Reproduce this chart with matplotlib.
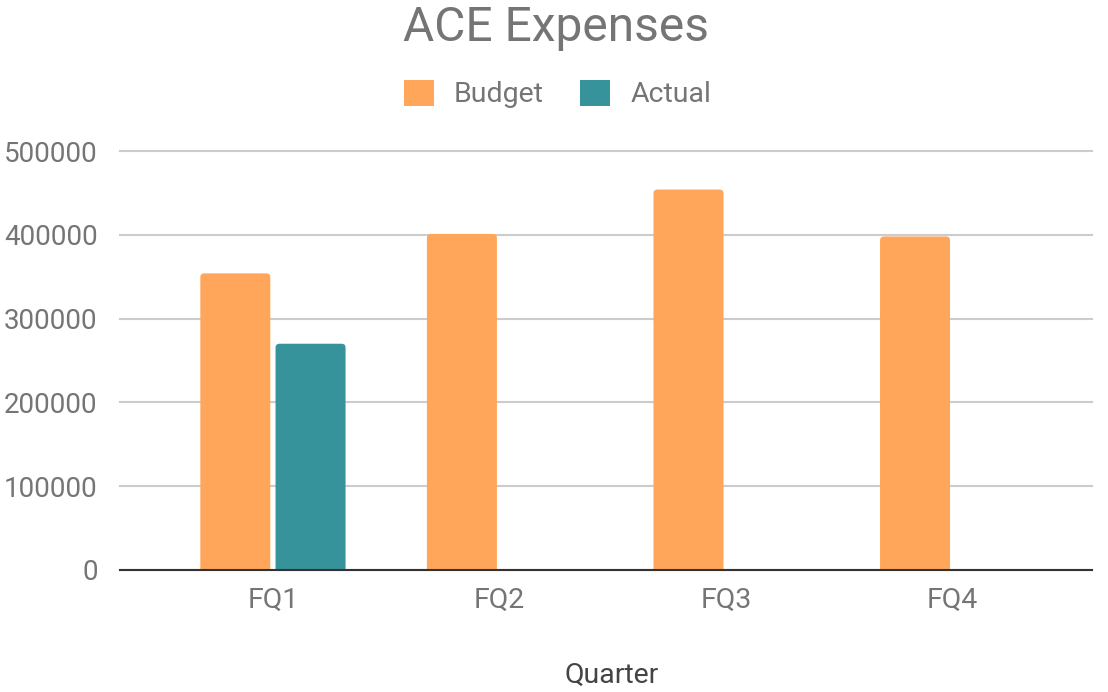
import matplotlib
matplotlib.use("Agg")
import matplotlib.pyplot as plt
from matplotlib.patches import Patch, FancyBboxPatch
import numpy as np

plt.rcParams['font.family'] = ['Roboto', 'DejaVu Sans']

quarters = ["FQ1", "FQ2", "FQ3", "FQ4"]
budget = [354000, 401000, 454000, 398000]
actual = [270000, 0, 0, 0]
yticks = [0, 100000, 200000, 300000, 400000, 500000]

c_budget = "#FFA65A"
c_actual = "#37939B"
txt = "#757575"

fig = plt.figure(figsize=(11.08, 6.92), dpi=100)
ax = fig.add_axes([120/1108, 1-570/692, (1092-120)/1108, (570-151)/692])

x = np.arange(len(quarters))
w = 0.309
off = 0.166
b1 = ax.bar(x - off, budget, width=w, color=c_budget, zorder=3)
b2 = ax.bar(x + off, actual, width=w, color=c_actual, zorder=3)

ax.set_ylim(0, 500000)
ax.set_xlim(-0.675, 3.615)

# slightly rounded top corners, like the reference (bottom corners clipped at the baseline)
px_x = (1092-120) / (3.615 + 0.675)
px_y = (570-151) / 500000
r = 4.0
for cont in (b1, b2):
    for p in cont.patches:
        h = p.get_height()
        if h <= 0:
            continue
        p.set_visible(False)
        xx, ww = p.get_x(), p.get_width()
        pad = r / px_x
        fb = FancyBboxPatch((xx + pad, 0), ww - 2 * pad, h - r / px_y,
                            boxstyle=f"round,pad={pad},rounding_size={pad}",
                            mutation_aspect=px_x / px_y,
                            facecolor=p.get_facecolor(), edgecolor='none', zorder=3,
                            clip_on=True)
        ax.add_patch(fb)

ax.set_yticks(yticks)
ax.set_yticklabels([str(v) for v in yticks])
ax.set_xticks(x)
ax.set_xticklabels(quarters)
ax.tick_params(axis='both', length=0, labelsize=20.5, labelcolor=txt)
ax.tick_params(axis='y', labelsize=20, pad=16)
ax.tick_params(axis='x', pad=12)
for s in ['top', 'right', 'left']:
    ax.spines[s].set_visible(False)
ax.spines['bottom'].set_color("#333333")
ax.spines['bottom'].set_linewidth(1.5)
ax.spines['bottom'].set_zorder(4)
ax.yaxis.grid(True, color="#CCCCCC", linewidth=1.5, zorder=0)
ax.set_axisbelow(True)
for gl in ax.get_ygridlines():
    gl.set_clip_on(False)

ax.set_xlabel("Quarter", fontsize=20.5, color="#444444", labelpad=35)
ax.xaxis.label.set_x(0.506)

fig.text(0.502, 1-28/692, "ACE Expenses", ha='center', va='center', fontsize=34.5, color=txt)

handles = [Patch(facecolor=c_budget, label="Budget"), Patch(facecolor=c_actual, label="Actual")]
leg = fig.legend(handles=handles, loc='center', bbox_to_anchor=(0.503, 1-94/692), ncol=2,
                 frameon=False, fontsize=20.5, handlelength=1.05, handleheight=1.05,
                 handletextpad=0.7, columnspacing=1.3)
for t in leg.get_texts():
    t.set_color(txt)

fig.savefig("out.png", dpi=100)
